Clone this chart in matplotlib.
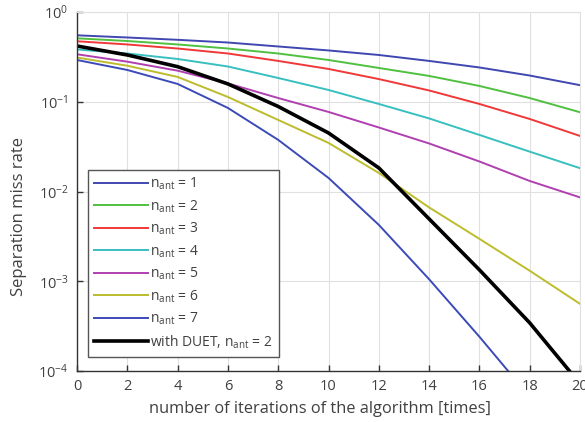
import numpy as np
import matplotlib
matplotlib.use("Agg")
import matplotlib.pyplot as plt
from matplotlib.ticker import LogLocator, LogFormatterMathtext, NullLocator

plt.rcParams['font.family'] = ['Open Sans', 'DejaVu Sans']
plt.rcParams['mathtext.fontset'] = 'custom'
plt.rcParams['mathtext.rm'] = 'Open Sans'
plt.rcParams['mathtext.it'] = 'Open Sans'
plt.rcParams['mathtext.bf'] = 'Open Sans'

# ---- data ----
iterations = [0, 2, 4, 6, 8, 10, 12, 14, 16, 18, 20]
n_ant_1 = [0.550, 0.520, 0.490, 0.457, 0.413, 0.373, 0.332, 0.285, 0.241, 0.196, 0.153]
n_ant_2 = [0.509, 0.475, 0.435, 0.392, 0.345, 0.292, 0.238, 0.194, 0.150, 0.110, 0.0764]
n_ant_3 = [0.472, 0.435, 0.392, 0.345, 0.285, 0.232, 0.179, 0.1336, 0.0945, 0.0643, 0.0416]
n_ant_4 = [0.382, 0.345, 0.2997, 0.247, 0.184, 0.1353, 0.0945, 0.0652, 0.0427, 0.0278, 0.0182]
n_ant_5 = [0.338, 0.2796, 0.222, 0.160, 0.110, 0.0770, 0.0517, 0.0343, 0.0216, 0.0131, 0.0086]
n_ant_6 = [0.311, 0.252, 0.189, 0.1131, 0.0627, 0.0348, 0.0161, 0.00665, 0.00297, 0.00131, 0.00056]
n_ant_7 = [0.292, 0.226, 0.158, 0.0853, 0.0376, 0.01417, 0.00425, 0.001053, 0.000241, 0.0000516, 0.0000103]
duet_n2 = [0.418, 0.332, 0.246, 0.158, 0.0886, 0.0449, 0.01832, 0.00495, 0.00134, 0.000344, 0.0000721]

series = [n_ant_1, n_ant_2, n_ant_3, n_ant_4, n_ant_5, n_ant_6, n_ant_7]
labels = [r'n$_{\mathregular{ant}}$ = %d' % k for k in range(1, 8)]
duet_label = r'with DUET, n$_{\mathregular{ant}}$ = 2'
colors = ['#4047b0', '#50c040', '#f03838', '#38bfc0', '#b040b0', '#bcbc2c', '#3c4ab8']

xticks = [0, 2, 4, 6, 8, 10, 12, 14, 16, 18, 20]
xlabel = 'number of iterations of the algorithm [times]'
ylabel = 'Separation miss rate'

# ---- figure ----
fig = plt.figure(figsize=(5.85, 4.22), dpi=100)
ax = fig.add_axes([77/585, 1-371/422, 503/585, 359/422])

for vals, lab, c in zip(series, labels, colors):
    ax.plot(iterations, vals, color=c, lw=1.4, label=lab)
ax.plot(iterations, duet_n2, color='black', lw=2.6, label=duet_label)

ax.set_yscale('log')
ax.set_xlim(0, 20)
ax.set_ylim(1e-4, 1)
ax.set_xticks(xticks)
ax.yaxis.set_major_locator(LogLocator(base=10, numticks=10))
ax.yaxis.set_major_formatter(LogFormatterMathtext())
ax.yaxis.set_minor_locator(NullLocator())

ax.grid(True, color='#e0e0e0', lw=0.8)
ax.set_axisbelow(True)
for s in ['top', 'right']:
    ax.spines[s].set_color('#e0e0e0')
    ax.spines[s].set_linewidth(0.8)
for s in ['left', 'bottom']:
    ax.spines[s].set_color('#333333')
    ax.spines[s].set_linewidth(1.0)

ax.tick_params(direction='in', length=4, width=1, colors='#333333',
               labelsize=10.5, labelcolor='#404040', pad=6)

ax.set_xlabel(xlabel, fontsize=11.8, color='#404040')
ax.xaxis.set_label_coords(0.484, -0.083)
ax.set_ylabel(ylabel, fontsize=12, color='#404040')
ax.yaxis.set_label_coords(-0.10, 0.43)

leg = ax.legend(loc='lower left', bbox_to_anchor=(11/503, 14/359), borderaxespad=0,
                fontsize=10, handlelength=3.9, handletextpad=0.15, labelspacing=0.44,
                frameon=True, fancybox=False, framealpha=1, borderpad=0.45)
leg.get_frame().set_edgecolor('#555555')
leg.get_frame().set_linewidth(1.0)
for t in leg.get_texts():
    t.set_color('#404040')

fig.savefig('out.png', dpi=100)
